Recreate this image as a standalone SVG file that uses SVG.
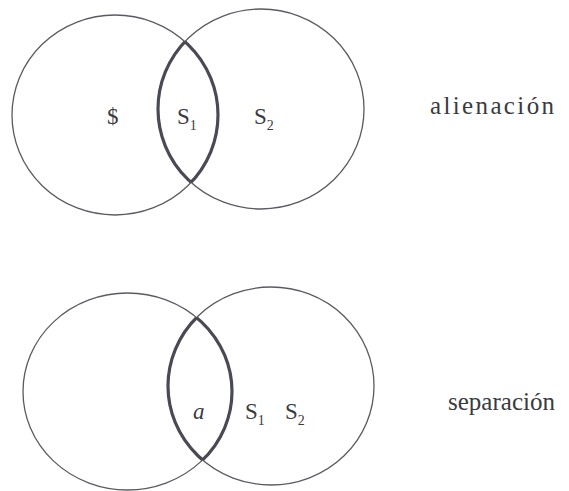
<svg xmlns="http://www.w3.org/2000/svg" width="569" height="491" viewBox="0 0 569 491">
<style>
.thin{fill:none;stroke:#5a5a62;stroke-width:1.3}
.thick{fill:none;stroke:#4a4a55;stroke-width:3.2}
text{font-family:"Liberation Serif","Times New Roman",serif;fill:#3a3a40}
.lbl{font-size:23px}
.sub{font-size:14px}
.word{font-size:25px}
</style>
<defs>
<clipPath id="cR1"><ellipse cx="261" cy="109" rx="103" ry="100"/></clipPath>
<clipPath id="cL1"><ellipse cx="115" cy="115" rx="103" ry="100"/></clipPath>
<clipPath id="cR2"><ellipse cx="271" cy="386" rx="103" ry="99"/></clipPath>
<clipPath id="cL2"><ellipse cx="127.5" cy="391.5" rx="104.5" ry="98.5"/></clipPath>
</defs>
<g id="alienacion">
<g id="top-left-circle"><ellipse class="thin" cx="115" cy="115" rx="103" ry="100"/></g>
<g id="top-right-circle"><ellipse class="thin" cx="261" cy="109" rx="103" ry="100"/></g>
<g id="top-lens">
<ellipse class="thick" cx="115" cy="115" rx="103" ry="100" clip-path="url(#cR1)"/>
<ellipse class="thick" cx="261" cy="109" rx="103" ry="100" clip-path="url(#cL1)"/>
</g>
<text class="lbl" x="107" y="124">$</text>
<text class="lbl" x="177" y="124">S<tspan class="sub" dy="6">1</tspan></text>
<text class="lbl" x="254" y="124">S<tspan class="sub" dy="6">2</tspan></text>
<text class="word" x="430" y="114" textLength="124">alienación</text>
</g>
<g id="separacion">
<g id="bottom-left-circle"><ellipse class="thin" cx="127.5" cy="391.5" rx="104.5" ry="98.5"/></g>
<g id="bottom-right-circle"><ellipse class="thin" cx="271" cy="386" rx="103" ry="99"/></g>
<g id="bottom-lens">
<ellipse class="thick" cx="127.5" cy="391.5" rx="104.5" ry="98.5" clip-path="url(#cR2)"/>
<ellipse class="thick" cx="271" cy="386" rx="103" ry="99" clip-path="url(#cL2)"/>
</g>
<text class="lbl" x="193" y="419" font-style="italic">a</text>
<text class="lbl" x="245" y="419">S<tspan class="sub" dy="6">1</tspan></text>
<text class="lbl" x="285" y="419">S<tspan class="sub" dy="6">2</tspan></text>
<text class="word" x="448" y="410" textLength="107">separación</text>
</g>
</svg>
